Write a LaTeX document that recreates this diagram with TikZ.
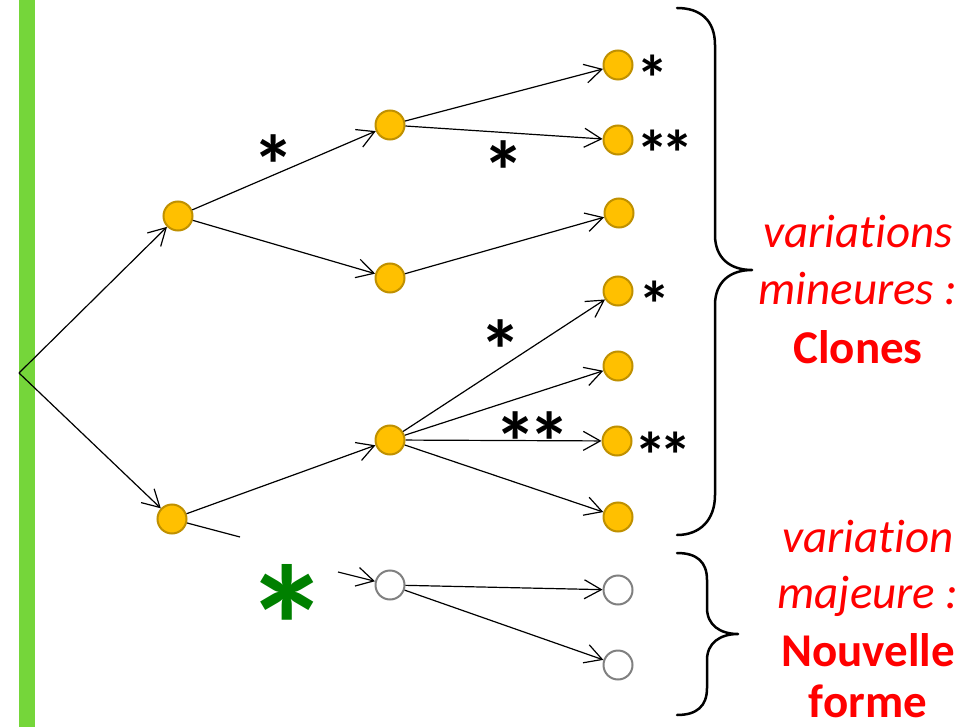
\documentclass[tikz,border=0pt]{standalone}
\usepackage{fontspec}
\setmainfont{Carlito}[Ligatures={NoCommon}]
\usetikzlibrary{arrows.meta}
\definecolor{orfill}{HTML}{FFC000}
\definecolor{ordraw}{HTML}{BF9000}
\definecolor{barg}{RGB}{117,214,58}
\definecolor{stargreen}{HTML}{008000}
\definecolor{ghostgray}{HTML}{808080}
\begin{document}
\begin{tikzpicture}[x=1pt,y=-1pt,
  bud/.style={circle,draw=ordraw,fill=orfill,line width=2pt,minimum size=29pt,inner sep=0pt},
  ghost/.style={circle,draw=ghostgray,fill=white,line width=2pt,minimum size=29pt,inner sep=0pt},
  link/.style={line width=1.2pt,-{Straight Barb[length=17pt,width=19pt]}},
  plain/.style={line width=1.2pt},
  brace/.style={line width=2.5pt,line cap=round,line join=round},
  smallstar/.style={inner sep=0pt,font=\fontsize{65}{65}\selectfont\bfseries},
  bigstar/.style={inner sep=0pt,font=\fontsize{85}{85}\selectfont\bfseries},
  lab/.style={text=red,inner sep=0pt,anchor=base,font=\fontsize{47}{50}\selectfont\itshape},
  labb/.style={text=red,inner sep=0pt,anchor=base,font=\fontsize{47}{50}\selectfont\bfseries}]
\useasboundingbox (0,0) rectangle (974,727);
\fill[barg] (19,0) rectangle (35,727);
\coordinate (r) at (19,373);
\node[bud] (a) at (178,216) {};
\node[bud] (b) at (172,519) {};
\node[bud] (c) at (390,125) {};
\node[bud] (d) at (390,278) {};
\node[bud] (e) at (390,440) {};
\node[ghost] (f) at (390,585) {};
\node[bud] (l1) at (618,65) {};
\node[bud] (l2) at (618,140) {};
\node[bud] (l3) at (619,213) {};
\node[bud] (l4) at (618,291) {};
\node[bud] (l5) at (618,366) {};
\node[bud] (l6) at (617,441) {};
\node[bud] (l7) at (618,517) {};
\node[ghost] (g1) at (618,590) {};
\node[ghost] (g2) at (618,665) {};
\coordinate (bstub) at (240,537);
\coordinate (fstart) at (338,572);
\draw[link] (r) -- (a);
\draw[link] (r) -- (b);
\draw[link] (a) -- (c);
\draw[link] (a) -- (d);
\draw[link] (c) -- (l1);
\draw[link] (c) -- (l2);
\draw[link] (d) -- (l3);
\draw[link] (b) -- (e);
\draw[plain] (b) -- (bstub);
\draw[link] (e) -- (l4);
\draw[link] (e) -- (l5);
\draw[link] (e) -- (l6);
\draw[link] (e) -- (l7);
\draw[link] (fstart) -- (f);
\draw[link] (f) -- (g1);
\draw[link] (f) -- (g2);
% stars
\node[bigstar] (s1) at (274,165) {*};
\node[bigstar] (s2) at (504,171) {*};
\node[bigstar] (s3) at (501,350) {*};
\node[bigstar] (s4) at (533,442) {*\kern-0.1em*};
\node[smallstar] (t1) at (653,78) {*};
\node[smallstar] (t2) at (665,153) {*\kern-0.12em*};
\node[smallstar] (t3) at (655,304) {*};
\node[smallstar] (t4) at (663,455) {*\kern-0.12em*};
\node[inner sep=0pt,text=stargreen,font=\fontsize{172}{172}\selectfont\bfseries] (gs) at (287,626) {*};
% braces
\draw[brace] (677,8) .. controls (700,8) and (715,20) .. (715,45) -- (715,235)
  .. controls (715,258) and (730,270) .. (752,270)
  .. controls (730,270) and (715,282) .. (715,305) -- (715,495)
  .. controls (715,520) and (700,535) .. (677,535);
\draw[brace] (677,553) .. controls (697,553) and (707,562) .. (707,580) -- (707,608)
  .. controls (707,625) and (720,634) .. (738,634)
  .. controls (720,634) and (707,643) .. (707,660) -- (707,688)
  .. controls (707,706) and (697,715) .. (677,715);
% labels
\node[lab] (m1) at (858,248) {variations};
\node[lab] (m2) at (858,305) {mineures :};
\node[labb] (m3) at (858,363) {Clones};
\node[lab] (n1) at (868,552) {variation};
\node[lab] (n2) at (868,608) {majeure :};
\node[labb] (n3) at (868,666) {Nouvelle};
\node[labb] (n4) at (868,717) {forme};
\end{tikzpicture}
\end{document}
